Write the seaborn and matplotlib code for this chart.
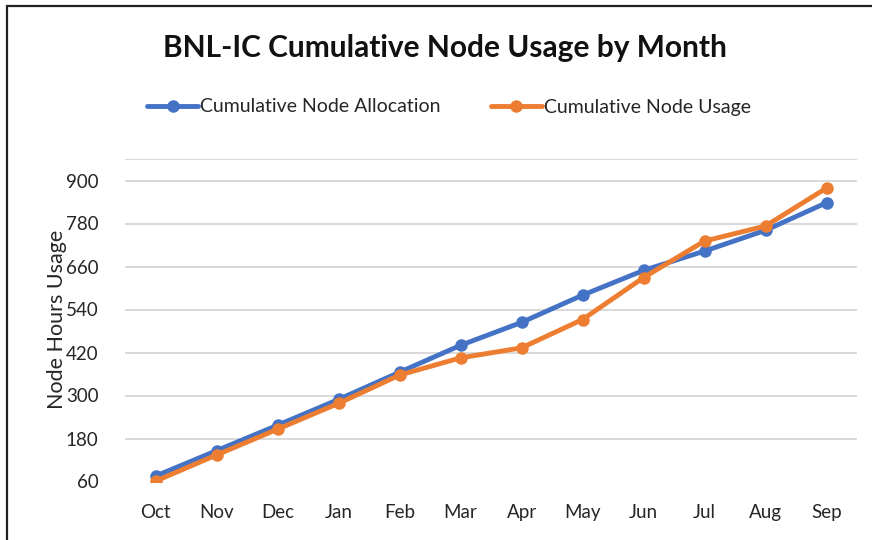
import pandas as pd
import matplotlib.pyplot as plt
import matplotlib.patches as patches
import seaborn as sns

months = ['Oct', 'Nov', 'Dec', 'Jan', 'Feb', 'Mar', 'Apr', 'May', 'Jun', 'Jul', 'Aug', 'Sep']
allocation = [75, 146, 217, 289, 365, 440, 504, 580, 649, 703, 761, 838]
usage = [61, 134, 206, 278, 357, 405, 433, 512, 629, 731, 773, 879]
series_names = ['Cumulative Node Allocation', 'Cumulative Node Usage']
y_ticks = [60, 180, 300, 420, 540, 660, 780, 900]

df = pd.DataFrame({
    'Month': months * 2,
    'Value': allocation + usage,
    'Series': [series_names[0]] * len(months) + [series_names[1]] * len(months),
})
df['x'] = list(range(len(months))) * 2

sns.set_style('white')
plt.rcParams['font.family'] = ['Lato', 'DejaVu Sans']
text_color = '#262626'

fig = plt.figure(figsize=(8.72, 5.4), dpi=100)
ax = fig.add_axes([125 / 872, 1 - 481.5 / 540, (857 - 125) / 872, (481.5 - 159) / 540])

# grid lines (none at the bottom value)
for v in y_ticks[1:] + [960]:
    ax.axhline(v, color='#d9d9d9', lw=1.4, zorder=0)

palette = {series_names[0]: '#4472c4', series_names[1]: '#ed7d31'}
sns.lineplot(data=df, x='x', y='Value', hue='Series', palette=palette,
             marker='o', markersize=9, markeredgewidth=0, linewidth=3.5,
             ax=ax, legend=True)

ax.set_xlim(-0.5, 11.5)
ax.set_ylim(60, 960)
ax.set_xticks(range(len(months)))
ax.set_xticklabels(months)
ax.set_yticks(y_ticks)
ax.tick_params(axis='both', length=0, labelsize=13.5, labelcolor=text_color)
ax.tick_params(axis='x', pad=16)
ax.tick_params(axis='y', pad=19)
for s in ax.spines.values():
    s.set_visible(False)
ax.set_xlabel('')
ax.set_ylabel('')

fig.text(57 / 872, 1 - 319 / 540, 'Node Hours Usage', rotation=90, ha='center', va='center',
         fontsize=15.5, color=text_color)

handles, labels = ax.get_legend_handles_labels()
ax.legend_.remove()
fig.legend(handles, labels, loc='center', bbox_to_anchor=(449 / 872, 1 - 107 / 540), ncol=2,
           frameon=False, fontsize=14, handlelength=2.6, handletextpad=0.1, columnspacing=2.6,
           labelcolor=text_color)

fig.text(445 / 872, 1 - 48 / 540, 'BNL-IC Cumulative Node Usage by Month', ha='center', va='center',
         fontsize=21.5, fontweight='bold', color='#111111')

# outer frame of the chart area (cropped on right and bottom)
fig.patches.append(patches.Rectangle((6.5 / 872, -0.1), 2.0, 1.1 - 5.5 / 540, transform=fig.transFigure,
                                     fill=False, edgecolor='#222222', linewidth=1.6))

fig.savefig('out.png', dpi=100)
